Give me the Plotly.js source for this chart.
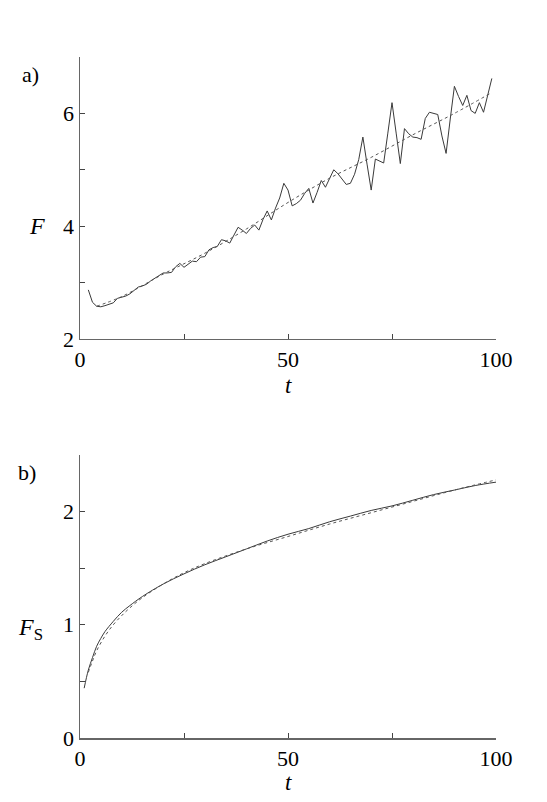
<!DOCTYPE html>
<html>
<head>
<meta charset="utf-8">
<script src="https://cdn.plot.ly/plotly-3.0.1.min.js"></script>
<style>
  body { margin: 0; background: #fff; }
  #plot { width: 547px; height: 802px; }
</style>
</head>
<body>
<div id="plot"></div>
<script>
// panel a) : F(t), noisy run and smooth trend
const tA = [2, 3, 4, 5, 6, 7, 8, 9, 10, 11, 12, 13, 14, 15, 16, 17, 18, 19, 20,
    21, 22, 23, 24, 25, 26, 27, 28, 29, 30, 31, 32, 33, 34, 35, 36, 37, 38, 39, 40,
    41, 42, 43, 44, 45, 46, 47, 48, 49, 50, 51, 52, 53, 54, 55, 56, 57, 58, 59, 60,
    61, 62, 63, 64, 65, 66, 67, 68, 69, 70, 71, 72, 73, 74, 75, 76, 77, 78, 79, 80,
    81, 82, 83, 84, 85, 86, 87, 88, 89, 90, 91, 92, 93, 94, 95, 96, 97, 98, 99];
const fA = [2.87, 2.65, 2.58, 2.57, 2.59, 2.61, 2.64, 2.72, 2.74, 2.76, 2.80, 2.86, 2.92, 2.94, 2.97, 3.03, 3.08, 3.12, 3.17,
    3.17, 3.18, 3.28, 3.34, 3.27, 3.33, 3.38, 3.37, 3.45, 3.46, 3.58, 3.62, 3.64, 3.76, 3.74, 3.70, 3.85, 3.98, 3.93, 3.87,
    3.96, 4.02, 3.93, 4.12, 4.27, 4.11, 4.32, 4.50, 4.76, 4.64, 4.36, 4.40, 4.46, 4.58, 4.67, 4.41, 4.60, 4.81, 4.69, 4.85,
    5.00, 4.93, 4.83, 4.74, 4.76, 4.92, 5.18, 5.58, 5.10, 4.64, 5.19, 5.15, 5.12, 5.65, 6.19, 5.65, 5.11, 5.73, 5.64, 5.58,
    5.57, 5.54, 5.91, 6.02, 6.00, 5.98, 5.60, 5.29, 5.90, 6.48, 6.30, 6.14, 6.32, 6.05, 6.00, 6.19, 6.02, 6.30, 6.62];
const tAfit = [4, 10, 20, 30, 40, 50, 60, 70, 80, 90, 99];
const fAfit = [2.58, 2.75, 3.15, 3.52, 3.95, 4.42, 4.85, 5.22, 5.62, 6.00, 6.37];

// panel b) : F_S(t)
const tB = [1, 2, 3, 4, 5, 6, 8, 10, 12, 15, 20, 25, 30, 35, 40, 45, 50, 55, 60, 65, 70, 75, 80, 85, 90, 95, 100];
const fB = [0.44, 0.60, 0.71, 0.81, 0.88, 0.94, 1.03, 1.11, 1.17, 1.25, 1.36, 1.45, 1.53, 1.60, 1.67, 1.74, 1.80,
    1.85, 1.91, 1.96, 2.01, 2.05, 2.10, 2.15, 2.19, 2.23, 2.26];
const tBfit = [2, 3, 4, 6, 8, 10, 12, 15, 20, 25, 30, 40, 50, 60, 70, 80, 90, 100];
const fBfit = [0.58, 0.68, 0.77, 0.90, 1.00, 1.08, 1.15, 1.24, 1.36, 1.46, 1.54, 1.67, 1.78, 1.89, 1.99, 2.09, 2.19, 2.28];

const xTicks = [0, 25, 50, 75, 100];
const xTickText = ['0', '', '50', '', '100'];
const yTicksA = [2, 3, 4, 5, 6, 7];
const yTickTextA = ['2', '', '4', '', '6', ''];
const yTicksB = [0, 0.5, 1, 1.5, 2, 2.5];
const yTickTextB = ['0', '', '1', '', '2', ''];

const serif = '"Liberation Serif", "Times New Roman", serif';
const solid = { color: '#3a3a3a', width: 1 };
const dotted = { color: '#555', width: 1, dash: 'dot', shape: 'spline' };

const data = [
    { x: tA, y: fA, mode: 'lines', line: solid, xaxis: 'x', yaxis: 'y' },
    { x: tAfit, y: fAfit, mode: 'lines', line: dotted, xaxis: 'x', yaxis: 'y' },
    { x: tB, y: fB, mode: 'lines', line: Object.assign({ shape: 'spline' }, solid), xaxis: 'x2', yaxis: 'y2' },
    { x: tBfit, y: fBfit, mode: 'lines', line: dotted, xaxis: 'x2', yaxis: 'y2' }
];

function axis(extra) {
    return Object.assign({
        showline: true,
        linecolor: '#666',
        linewidth: 1.5,
        ticks: 'inside',
        ticklen: 5,
        tickcolor: '#444',
        tickwidth: 1,
        showgrid: false,
        zeroline: false,
        tickmode: 'array',
        tickfont: { family: serif, size: 22, color: '#000' },
        fixedrange: true
    }, extra);
}

function label(text, x, y, size) {
    return {
        text: text, x: x, y: y, xref: 'paper', yref: 'paper',
        xanchor: 'center', yanchor: 'middle', showarrow: false,
        font: { family: serif, size: size, color: '#000' }
    };
}

const layout = {
    width: 547,
    height: 802,
    margin: { l: 80, r: 51, t: 57, b: 64 },
    paper_bgcolor: '#fff',
    plot_bgcolor: '#fff',
    showlegend: false,
    xaxis: axis({ domain: [0, 1], range: [0, 100], anchor: 'y', tickvals: xTicks, ticktext: xTickText }),
    yaxis: axis({ domain: [0.586, 1], range: [2, 7], anchor: 'x', tickvals: yTicksA, ticktext: yTickTextA }),
    xaxis2: axis({ domain: [0, 1], range: [0, 100], anchor: 'y2', tickvals: xTicks, ticktext: xTickText }),
    yaxis2: axis({ domain: [0, 0.4156], range: [0, 2.5], anchor: 'x2', tickvals: yTicksB, ticktext: yTickTextB }),
    annotations: [
        label('a)', -0.12, 0.974, 22),
        label('<i>F</i>', -0.103, 0.752, 24),
        label('<i>t</i>', 0.5, 0.518, 23),
        label('b)', -0.127, 0.39, 22),
        label('<i>F</i><sub>S</sub>', -0.12, 0.16, 24),
        label('<i>t</i>', 0.5, -0.065, 23)
    ]
};

Plotly.newPlot('plot', data, layout, { staticPlot: true, displayModeBar: false });
</script>
</body>
</html>
